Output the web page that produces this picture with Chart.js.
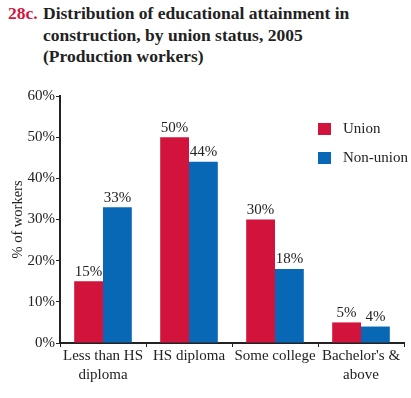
<!DOCTYPE html>
<html>
<head>
<meta charset="utf-8">
<script src="https://cdn.jsdelivr.net/npm/chart.js@4"></script>
<style>
  body { margin: 0; background: #fff; width: 411px; height: 398px; overflow: hidden; position: relative; font-family: "Liberation Serif", "DejaVu Serif", serif; }
  #title { position: absolute; left: 8px; top: 3px; font-weight: bold; font-size: 17.5px; line-height: 21.5px; color: #222; }
  #title .num { color: #d2143c; position: absolute; left: 0; top: 0; }
  #title .txt { margin-left: 35px; display: block; }
  #wrap { position: absolute; left: 0; top: 80px; width: 411px; height: 318px; }
</style>
</head>
<body>
<div id="title"><span class="num">28c.</span><span class="txt">Distribution of educational attainment in<br>construction, by union status, 2005<br>(Production workers)</span></div>
<div id="wrap"><canvas id="chart" width="411" height="318"></canvas></div>
<script>
// categories + series
var categories = [['Less than HS', 'diploma'], 'HS diploma', 'Some college', ["Bachelor's &", 'above']]
var unionVals = [15, 50, 30, 5]
var nonUnionVals = [33, 44, 18, 4]
var yTicks = [0, 10, 20, 30, 40, 50, 60]
var seriesNames = ['Union', 'Non-union']
var seriesColors = ['#d2143c', '#0868b6']

var serif = '"Liberation Serif", "DejaVu Serif", serif'

// value labels on top of bars
var barLabels = {
  id: 'barLabels',
  afterDatasetsDraw(chart) {
    var ctx = chart.ctx
    ctx.save()
    ctx.font = '15px ' + serif
    ctx.fillStyle = '#222'
    ctx.textAlign = 'center'
    ctx.textBaseline = 'bottom'
    chart.data.datasets.forEach((ds, i) => {
      chart.getDatasetMeta(i).data.forEach((bar, j) => {
        ctx.fillText(ds.data[j] + '%', bar.x, bar.y - 2)
      })
    })
    ctx.restore()
  }
}

// legend inside plot, top right
var sideLegend = {
  id: 'sideLegend',
  afterDraw(chart) {
    var ctx = chart.ctx
    ctx.save()
    ctx.font = '15px ' + serif
    ctx.textBaseline = 'middle'
    chart.data.datasets.forEach((ds, i) => {
      var y = 49 + i * 29
      ctx.fillStyle = ds.backgroundColor
      ctx.fillRect(318, y - 6, 13, 12)
      ctx.fillStyle = '#222'
      ctx.fillText(ds.label, 343, y)
    })
    ctx.restore()
  }
}

var ctx = document.getElementById('chart').getContext('2d')
var myChart = new Chart(ctx, {
  type: 'bar',
  data: {
    labels: categories,
    datasets: [
      { label: seriesNames[0], data: unionVals, backgroundColor: seriesColors[0], categoryPercentage: 0.67, barPercentage: 1.0 },
      { label: seriesNames[1], data: nonUnionVals, backgroundColor: seriesColors[1], categoryPercentage: 0.67, barPercentage: 1.0 }
    ]
  },
  options: {
    responsive: false,
    animation: false,
    events: [],
    layout: { padding: { top: 16, right: 7, left: 9, bottom: 0 } },
    plugins: { legend: { display: false }, tooltip: { enabled: false } },
    scales: {
      x: {
        grid: { display: true, drawOnChartArea: false, color: '#222', tickLength: 4, offset: true },
        border: { color: '#222', width: 2 },
        ticks: { color: '#222', font: { family: serif, size: 15, lineHeight: 1.25 }, padding: 0, maxRotation: 0, autoSkip: false },
        afterFit(scale) { scale.height = 55 }
      },
      y: {
        min: 0,
        max: 60,
        afterBuildTicks(scale) { scale.ticks = yTicks.map((v) => ({ value: v })) },
        grid: { display: true, drawOnChartArea: false, color: '#222', tickLength: 4 },
        border: { color: '#222', width: 2 },
        ticks: { color: '#222', font: { family: serif, size: 15 }, padding: 1, callback: (v) => v + '%' },
        title: { display: true, text: '% of workers', color: '#222', font: { family: serif, size: 14.5 }, padding: { top: 0, bottom: 2 } },
        afterFit(scale) { scale.width = 51 }
      }
    }
  },
  plugins: [barLabels, sideLegend]
})
</script>
</body>
</html>
